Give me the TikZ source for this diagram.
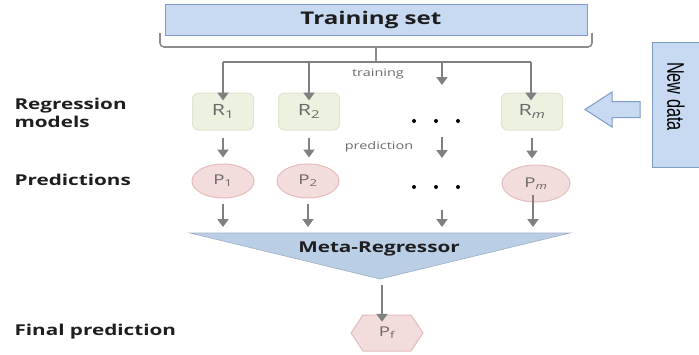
\documentclass[tikz,border=0pt]{standalone}
\usepackage{fontspec}
\setmainfont{Open Sans}[FakeStretch=1.38]
\newfontfamily\narrowfont{Liberation Sans}
\usetikzlibrary{arrows.meta,shapes.geometric}
\definecolor{arrgray}{RGB}{128,128,128}
\definecolor{bracegray}{RGB}{140,140,140}
\definecolor{tsfill}{RGB}{200,218,242}
\definecolor{tsdraw}{RGB}{125,155,195}
\definecolor{rfill}{RGB}{236,241,224}
\definecolor{rdraw}{RGB}{222,230,205}
\definecolor{pfill}{RGB}{243,221,220}
\definecolor{pdraw}{RGB}{228,188,187}
\definecolor{metafill}{RGB}{186,206,230}
\definecolor{txtgray}{RGB}{105,105,105}
\definecolor{txtdark}{RGB}{30,30,30}
\tikzset{
  flowarrow/.style={draw=arrgray,line width=2pt,-{Triangle[width=11pt,length=8pt]}},
  bracestyle/.style={draw=bracegray,line width=1.6pt,rounded corners=4pt},
  rbox/.style={draw=rdraw,line width=1pt,fill=rfill,rounded corners=6pt,minimum width=61pt,minimum height=37pt,text=txtgray,font=\fontsize{15.5}{18}\selectfont},
  pell/.style={ellipse,draw=pdraw,line width=1pt,fill=pfill,minimum width=62pt,minimum height=34pt,inner sep=0pt,text=txtgray,font=\fontsize{13.5}{16}\selectfont},
  sidelabel/.style={anchor=west,align=left,text=txtdark,font=\bfseries\fontsize{15}{17.5}\selectfont},
  smalllabel/.style={text=txtgray,font=\fontsize{10.5}{12}\selectfont},
  dotmark/.style={circle,fill=black,inner sep=0pt,minimum size=4pt},
}
\begin{document}
\begin{tikzpicture}[x=1pt,y=-1pt]
\useasboundingbox (0,0) rectangle (699,354);
% Training set
\node[draw=tsdraw,line width=1pt,fill=tsfill,minimum width=422pt,minimum height=31pt,text=txtdark,font=\bfseries\fontsize{17.5}{20}\selectfont] (ts) at (376,19.5) {\hspace*{-10pt}Training set};
% brace
\draw[bracestyle] (160,33) -- (160,47) -- (592,47) -- (592,33);
\coordinate (bc) at (376,47);
\coordinate (t1) at (223,62);
\coordinate (t2) at (309,62);
\coordinate (t3) at (442,62);
\coordinate (t4) at (531,62);
\coordinate (bj) at (376,62);
\draw[draw=bracegray,line width=1.6pt] (bc) -- (bj);
\draw[draw=arrgray,line width=2pt] (t1) -- (t4);
\node[smalllabel] (trl) at (378,74) {training};
% Regression models
\node[rbox] (r1) at (223,111.5) {R\textsubscript{1}};
\node[rbox] (r2) at (309,111.5) {R\textsubscript{2}};
\node[rbox] (rm) at (532,111.5) {R\textsubscript{\itshape m}};
\node[dotmark] (d1a) at (414,121) {};
\node[dotmark] (d1b) at (436,121) {};
\node[dotmark] (d1c) at (458,121) {};
\coordinate (c3a) at (442,85);
\coordinate (c3b) at (442,137);
\coordinate (c3c) at (442,158);
\coordinate (c3d) at (442,210);
\coordinate (c3e) at (442,227);
\draw[flowarrow] (t1) -- ([yshift=-8pt]t1 |- r1.north);
\draw[flowarrow] (t2) -- ([yshift=-8pt]t2 |- r2.north);
\draw[flowarrow] (t3) -- (c3a);
\draw[flowarrow] (t4) -- ([yshift=-8pt]t4 |- rm.north);
% New data
\node[draw=tsdraw,line width=1pt,fill=tsfill,minimum width=60pt,minimum height=125pt,anchor=north west] (nd) at (652,42) {};
\node[rotate=-90,inner sep=0pt] (ndt) at (676,96.5) {\scalebox{0.68}[1]{\narrowfont\fontsize{24}{26}\selectfont New data}};
\draw[draw=tsdraw,line width=1pt,fill=tsfill,line join=miter] (640,101.5) -- (612,101.5) -- (612,92) -- (585,109.5) -- (612,127) -- (612,117.5) -- (640,117.5) -- cycle;
% Predictions
\node[pell] (p1) at (223,181) {P\textsubscript{1}};
\node[pell] (p2) at (308,181) {P\textsubscript{2}};
\node[pell,minimum width=68pt,minimum height=37pt] (pm) at (536,183.5) {P\textsubscript{\itshape m}};
\node[dotmark] (d2a) at (414,187) {};
\node[dotmark] (d2b) at (436,187) {};
\node[dotmark] (d2c) at (458,187) {};
\node[smalllabel] (prl) at (379,147) {prediction};
\draw[flowarrow,shorten <=7pt] (r1.south) -- ([yshift=6pt]r1.south |- p1.north);
\draw[flowarrow,shorten <=7pt] (r2.south) -- ([yshift=6pt]r2.south |- p2.north);
\draw[flowarrow] (c3b) -- (c3c);
\draw[flowarrow,shorten <=7pt] (rm.south) -- ([yshift=6pt]rm.south |- pm.north);
% Meta regressor
\draw[draw=metafill!85!black,line width=0.6pt,fill=metafill] (190,233) -- (570,233) -- (380,279) -- cycle;
\node[text=txtdark,font=\bfseries\fontsize{15}{17}\selectfont] (meta) at (379,249) {Meta-Regressor};
\coordinate (m1) at (223,227);
\coordinate (m2) at (308,227);
\coordinate (m4) at (533,227);
\coordinate (apex) at (382,285);
\draw[flowarrow,shorten <=5pt] (p1.south) -- (m1);
\draw[flowarrow,shorten <=5pt] (p2.south) -- (m2);
\draw[flowarrow] (c3d) -- (c3e);
\draw[flowarrow] ([yshift=8pt]m4 |- pm.south) -- (m4);
% Final prediction
\draw[draw=pdraw,line width=1pt,fill=pfill] (351,333) -- (363,315) -- (411,315) -- (423,333) -- (411,351) -- (363,351) -- cycle;
\node[minimum width=72pt,minimum height=36pt,inner sep=0pt,text=txtgray,font=\fontsize{13.5}{16}\selectfont] (pf) at (387,333) {P\textsubscript{f}};
\draw[flowarrow] (apex) -- ([yshift=-7pt]apex |- pf.north);
% Side labels
\node[sidelabel] (lrm) at (11,113) {Regression\\models};
\node[sidelabel] (lpr) at (11,180) {Predictions};
\node[sidelabel] (lfp) at (11,332) {Final prediction};
\end{tikzpicture}
\end{document}
